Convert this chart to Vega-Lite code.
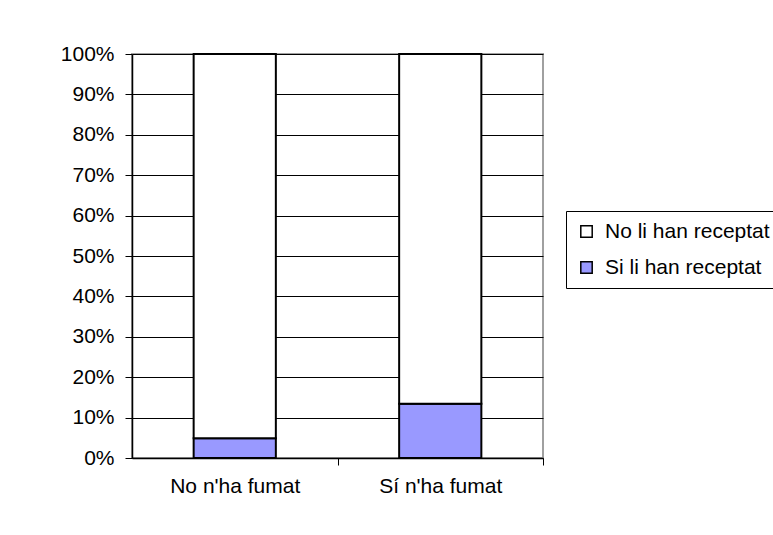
{
  "$schema": "https://vega.github.io/schema/vega-lite/v6.json",
  "autosize": {"type": "none"},
  "width": 411,
  "height": 404,
  "padding": {"left": 132, "top": 54, "right": 230, "bottom": 77},
  "background": "white",
  "config": {
    "font": "Liberation Sans",
    "view": {"stroke": "#a0a0a0", "strokeWidth": 2},
    "axis": {"labelFont": "Liberation Sans", "labelColor": "black"}
  },
  "data": {
    "values": [
      {"grup": "No n'ha fumat", "serie": "Si li han receptat", "valor": 0.049, "ord": 1},
      {"grup": "No n'ha fumat", "serie": "No li han receptat", "valor": 0.951, "ord": 2},
      {"grup": "Sí n'ha fumat", "serie": "Si li han receptat", "valor": 0.134, "ord": 1},
      {"grup": "Sí n'ha fumat", "serie": "No li han receptat", "valor": 0.866, "ord": 2}
    ]
  },
  "mark": {"type": "bar", "stroke": "black", "strokeWidth": 2},
  "encoding": {
    "x": {
      "field": "grup",
      "type": "nominal",
      "sort": null,
      "scale": {"paddingInner": 0.6, "paddingOuter": 0.3},
      "axis": {
        "title": null,
        "labelAngle": 0,
        "labelFontSize": 21,
        "labelPadding": 10,
        "labelOffset": -102.75,
        "tickSize": 7,
        "tickColor": "black",
        "tickOffset": 102.75,
        "domainColor": "black",
        "domainWidth": 1.5
      }
    },
    "y": {
      "field": "valor",
      "type": "quantitative",
      "stack": "zero",
      "scale": {"domain": [0, 1], "nice": false},
      "axis": {
        "title": null,
        "format": ".0%",
        "values": [0, 0.1, 0.2, 0.3, 0.4, 0.5, 0.6, 0.7, 0.8, 0.9, 1],
        "labelFontSize": 21,
        "labelPadding": 11,
        "tickSize": 7,
        "tickColor": "black",
        "domainColor": "black",
        "domainWidth": 1.5,
        "grid": true,
        "gridColor": "black",
        "gridWidth": 1
      }
    },
    "color": {
      "field": "serie",
      "type": "nominal",
      "scale": {"domain": ["No li han receptat", "Si li han receptat"], "range": ["white", "#9999FF"]},
      "legend": {
        "title": null,
        "orient": "none",
        "legendX": 434,
        "legendY": 157,
        "symbolType": "square",
        "symbolSize": 130,
        "symbolStrokeColor": "black",
        "symbolStrokeWidth": 1.5,
        "labelFontSize": 21,
        "labelColor": "black",
        "labelFont": "Liberation Sans",
        "labelLimit": 300,
        "rowPadding": 14,
        "padding": 10,
        "strokeColor": "black",
        "fillColor": "white",
        "labelOffset": 8
      }
    },
    "order": {"field": "ord", "type": "quantitative", "sort": "ascending"}
  }
}
